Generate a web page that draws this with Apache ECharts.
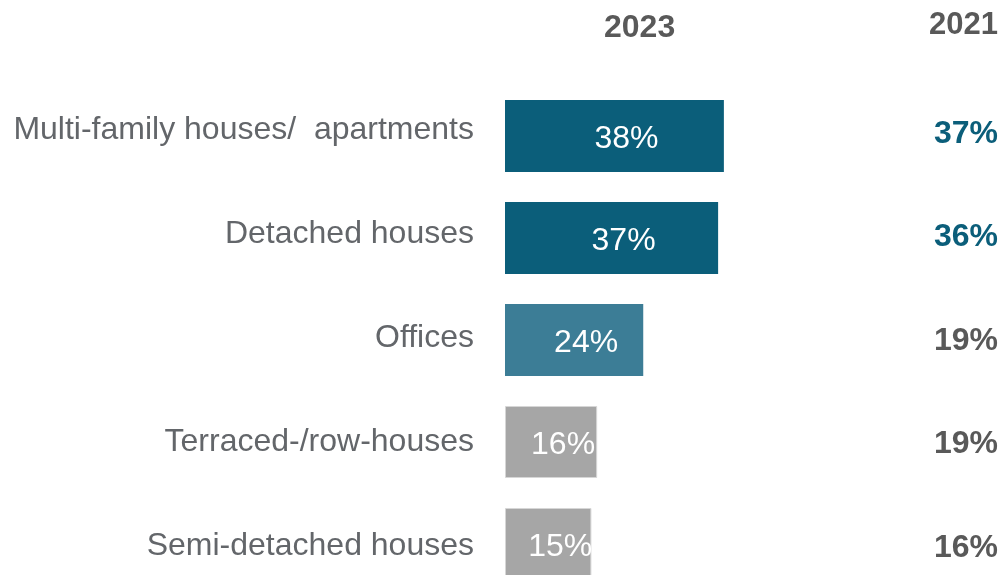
<!DOCTYPE html>
<html>
<head>
<meta charset="utf-8">
<script src="https://cdn.jsdelivr.net/npm/echarts@6/dist/echarts.min.js"></script>
<style>
  html, body { margin: 0; padding: 0; background: #ffffff; overflow: hidden; }
  /* last row runs past the bottom edge of the page */
  #chart { width: 1005px; height: 600px; }
</style>
</head>
<body>
<div id="chart"></div>
<script>
// Building types and their shares (%) in 2023, with the 2021 comparison column
const categories = [
  'Multi-family houses/  apartments',
  'Detached houses',
  'Offices',
  'Terraced-/row-houses',
  'Semi-detached houses'
];
const values2023 = [38, 37, 24, 16, 15];
const values2021 = [37, 36, 19, 19, 16];
const yearLabels = ['2023', '2021'];

// Colour per row
const barColors = ['#0b5e7a', '#0b5e7a', '#3c7d96', '#a6a6a6', '#a6a6a6'];
const col2021Colors = ['#0b5e7a', '#0b5e7a', '#595959', '#595959', '#595959'];

const FONT = '"Liberation Sans", Arial, sans-serif';

const barData = values2023.map((v, i) => ({
  value: v,
  itemStyle: {
    color: barColors[i],
    borderColor: i >= 3 ? '#d6d6d6' : barColors[i],
    borderWidth: i >= 3 ? 1 : 0
  }
}));

const hiddenCategoryAxis = {
  type: 'category',
  inverse: true,
  axisLine: { show: false },
  axisTick: { show: false },
  splitLine: { show: false }
};

const chart = echarts.init(document.getElementById('chart'), null, { renderer: 'canvas' });

chart.setOption({
  backgroundColor: '#ffffff',
  animation: false,
  // 0: bars, 1: row names, 2: 2021 column (text rows are spaced a little wider than the bars)
  grid: [
    { left: 505, right: 212, top: 85, height: 510 },
    { left: 505, right: 212, top: 78, height: 520 },
    { left: 505, right: 7, top: 82, height: 520 }
  ],
  xAxis: [
    { gridIndex: 0, type: 'value', min: 0, max: 50, show: false },
    { gridIndex: 1, type: 'value', min: 0, max: 50, show: false },
    { gridIndex: 2, type: 'value', min: 0, max: 50, show: false }
  ],
  yAxis: [
    Object.assign({}, hiddenCategoryAxis, {
      gridIndex: 0,
      data: categories,
      axisLabel: { show: false }
    }),
    Object.assign({}, hiddenCategoryAxis, {
      gridIndex: 1,
      data: categories,
      axisLabel: {
        margin: 31,
        fontFamily: FONT,
        fontSize: 32,
        color: '#63666a'
      }
    }),
    Object.assign({}, hiddenCategoryAxis, {
      gridIndex: 2,
      position: 'right',
      data: values2021.map(v => v + '%'),
      axisLabel: {
        align: 'right',
        margin: 0,
        fontFamily: FONT,
        fontSize: 32,
        fontWeight: 'bold',
        color: (val, idx) => col2021Colors[idx]
      }
    })
  ],
  series: [
    {
      type: 'bar',
      xAxisIndex: 0,
      yAxisIndex: 0,
      data: barData,
      barWidth: 72,
      label: {
        show: true,
        position: 'inside',
        offset: [12, 3],
        formatter: p => p.value + '%',
        fontFamily: FONT,
        fontSize: 32,
        color: '#ffffff'
      }
    }
  ],
  graphic: [
    {
      type: 'text',
      left: 604,
      top: 12,
      style: {
        text: yearLabels[0],
        fontFamily: FONT,
        fontSize: 32,
        fontWeight: 'bold',
        fill: '#595959'
      }
    },
    {
      type: 'text',
      right: 7,
      top: 10,
      style: {
        text: yearLabels[1],
        fontFamily: FONT,
        fontSize: 31,
        fontWeight: 'bold',
        fill: '#595959'
      }
    }
  ]
});
</script>
</body>
</html>
